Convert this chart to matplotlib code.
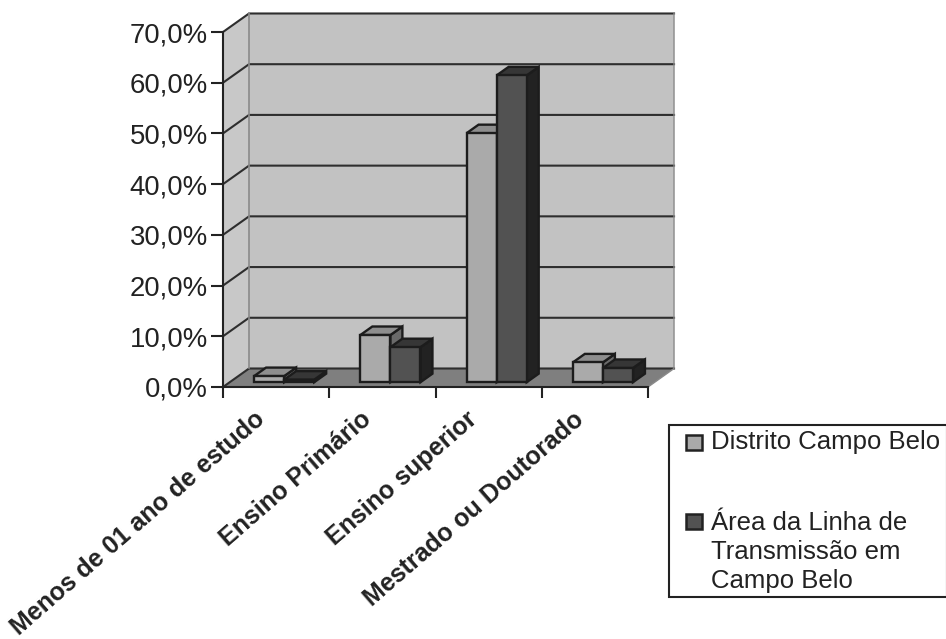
import matplotlib
matplotlib.use("Agg")
import matplotlib.pyplot as plt
from matplotlib.patches import Polygon, Rectangle

categories = ["Menos de 01 ano de estudo", "Ensino Primário", "Ensino superior", "Mestrado ou Doutorado"]
distrito = [1.2, 9.3, 49.1, 3.9]
area_linha = [0.5, 6.9, 60.5, 2.8]
series_names = ["Distrito Campo Belo", "Área da Linha de\nTransmissão em\nCampo Belo"]
y_ticks = [0, 10, 20, 30, 40, 50, 60, 70]

W, H = 946, 639
plt.rcParams["font.family"] = ["Liberation Sans", "DejaVu Sans"]
INK = "#222222"
fig = plt.figure(figsize=(W / 100, H / 100), dpi=100)
ax = fig.add_axes([223 / W, 1 - 387 / H, 425 / W, 355 / H])
ax.set_xlim(0, 4)
ax.set_ylim(0, 70)
for s in ("top", "right"):
    ax.spines[s].set_visible(False)
for s in ("left", "bottom"):
    ax.spines[s].set_linewidth(1.5)
    ax.spines[s].set_color(INK)
    ax.spines[s].set_zorder(6)
ax.patch.set_visible(False)

# Oblique projection: depth 0 is the front plane, depth 1 the back wall
DX = 0.245
DY = 3.65


def pr(x, y, d):
    return (x + DX * d, y + DY * d)


def face(pts, color, lw=1.7, ec="#1c1c1c", z=3):
    ax.add_patch(Polygon([pr(*p) for p in pts], closed=True, fc=color, ec=ec,
                         lw=lw, zorder=z, clip_on=False, joinstyle="miter"))


# Walls and floor
face([(0, 0, 1), (4, 0, 1), (4, 70, 1), (0, 70, 1)], "#c2c2c2", lw=0, ec="none", z=1)
face([(0, 0, 0), (0, 0, 1), (0, 70, 1), (0, 70, 0)], "#c8c8c8", lw=0, ec="none", z=1)
face([(0, 0, 0), (4, 0, 0), (4, 0, 1), (0, 0, 1)], "#7f7f7f", lw=0, ec="none", z=1)

# Gridlines run along the back wall and fold onto the side wall
for v in y_ticks:
    a, b = pr(0, v, 0), pr(0, v, 1)
    c = pr(4, v, 1)
    ax.plot([a[0], b[0], c[0]], [a[1], b[1], c[1]], color="#2e2e2e", lw=1.5,
            zorder=2, clip_on=False)
# Wall edges
a, b = pr(0, 0, 1), pr(0, 70, 1)
ax.plot([a[0], b[0]], [a[1], b[1]], color="#8a8a8a", lw=1.2, zorder=2, clip_on=False)
a, b, c = pr(4, 0, 0), pr(4, 0, 1), pr(4, 70, 1)
ax.plot([a[0], b[0], c[0]], [a[1], b[1], c[1]], color="#8a8a8a", lw=1.0, zorder=2, clip_on=False)

# Bars
BAR_W = 0.283
BAR_SHIFT = 0.012
D0, D1 = 0.26, 0.72
colors = [("#aaaaaa", "#8e8e8e", "#6a6a6a"), ("#525252", "#363636", "#222222")]


def bar3d(x0, v, cols, z):
    x1 = x0 + BAR_W
    front, top, side = cols
    face([(x1, 0, D0), (x1, 0, D1), (x1, v, D1), (x1, v, D0)], side, z=z)
    face([(x0, v, D0), (x1, v, D0), (x1, v, D1), (x0, v, D1)], top, z=z)
    face([(x0, 0, D0), (x1, 0, D0), (x1, v, D0), (x0, v, D0)], front, z=z)


for i, (v1, v2) in enumerate(zip(distrito, area_linha)):
    centre = i + 0.5 + BAR_SHIFT
    bar3d(centre - BAR_W, v1, colors[0], 3 + i * 0.1)
    bar3d(centre, v2, colors[1], 3.05 + i * 0.1)

# Axis ticks and labels
ax.set_yticks(y_ticks)
ax.set_yticklabels([f"{v:.1f}%".replace(".", ",") for v in y_ticks], fontsize=19.8, color=INK)
ax.tick_params(axis="y", length=9, width=1.5, pad=2, color=INK)
ax.set_xticks(range(5))
ax.set_xticklabels([])
ax.tick_params(axis="x", which="major", length=8, width=1.5, color=INK)
for i, label in enumerate(categories):
    ax.annotate(label, xy=(i + 0.5, 0), xycoords="data", xytext=(-10.5, -21),
                textcoords="offset points", rotation=41, ha="right", va="center",
                rotation_mode="anchor", fontsize=18, fontweight="bold", color=INK,
                annotation_clip=False)

# Legend box
lax = fig.add_axes([0, 0, 1, 1], facecolor="none")
lax.set_xlim(0, W)
lax.set_ylim(H, 0)
lax.axis("off")
lax.add_patch(Rectangle((668.5, 425), 278, 172, fc="white", ec=INK, lw=1.5, clip_on=False))
lax.add_patch(Rectangle((686, 435), 16, 15, fc=colors[0][0], ec=INK, lw=1.8))
lax.add_patch(Rectangle((686, 514), 16, 15, fc=colors[1][0], ec=INK, lw=1.8))
lax.text(711, 442, series_names[0], va="center", ha="left", fontsize=18.5, color=INK)
lax.text(711, 552, series_names[1], va="center", ha="left", fontsize=18.5, color=INK,
         linespacing=1.26)

fig.savefig("out.png", dpi=100)
